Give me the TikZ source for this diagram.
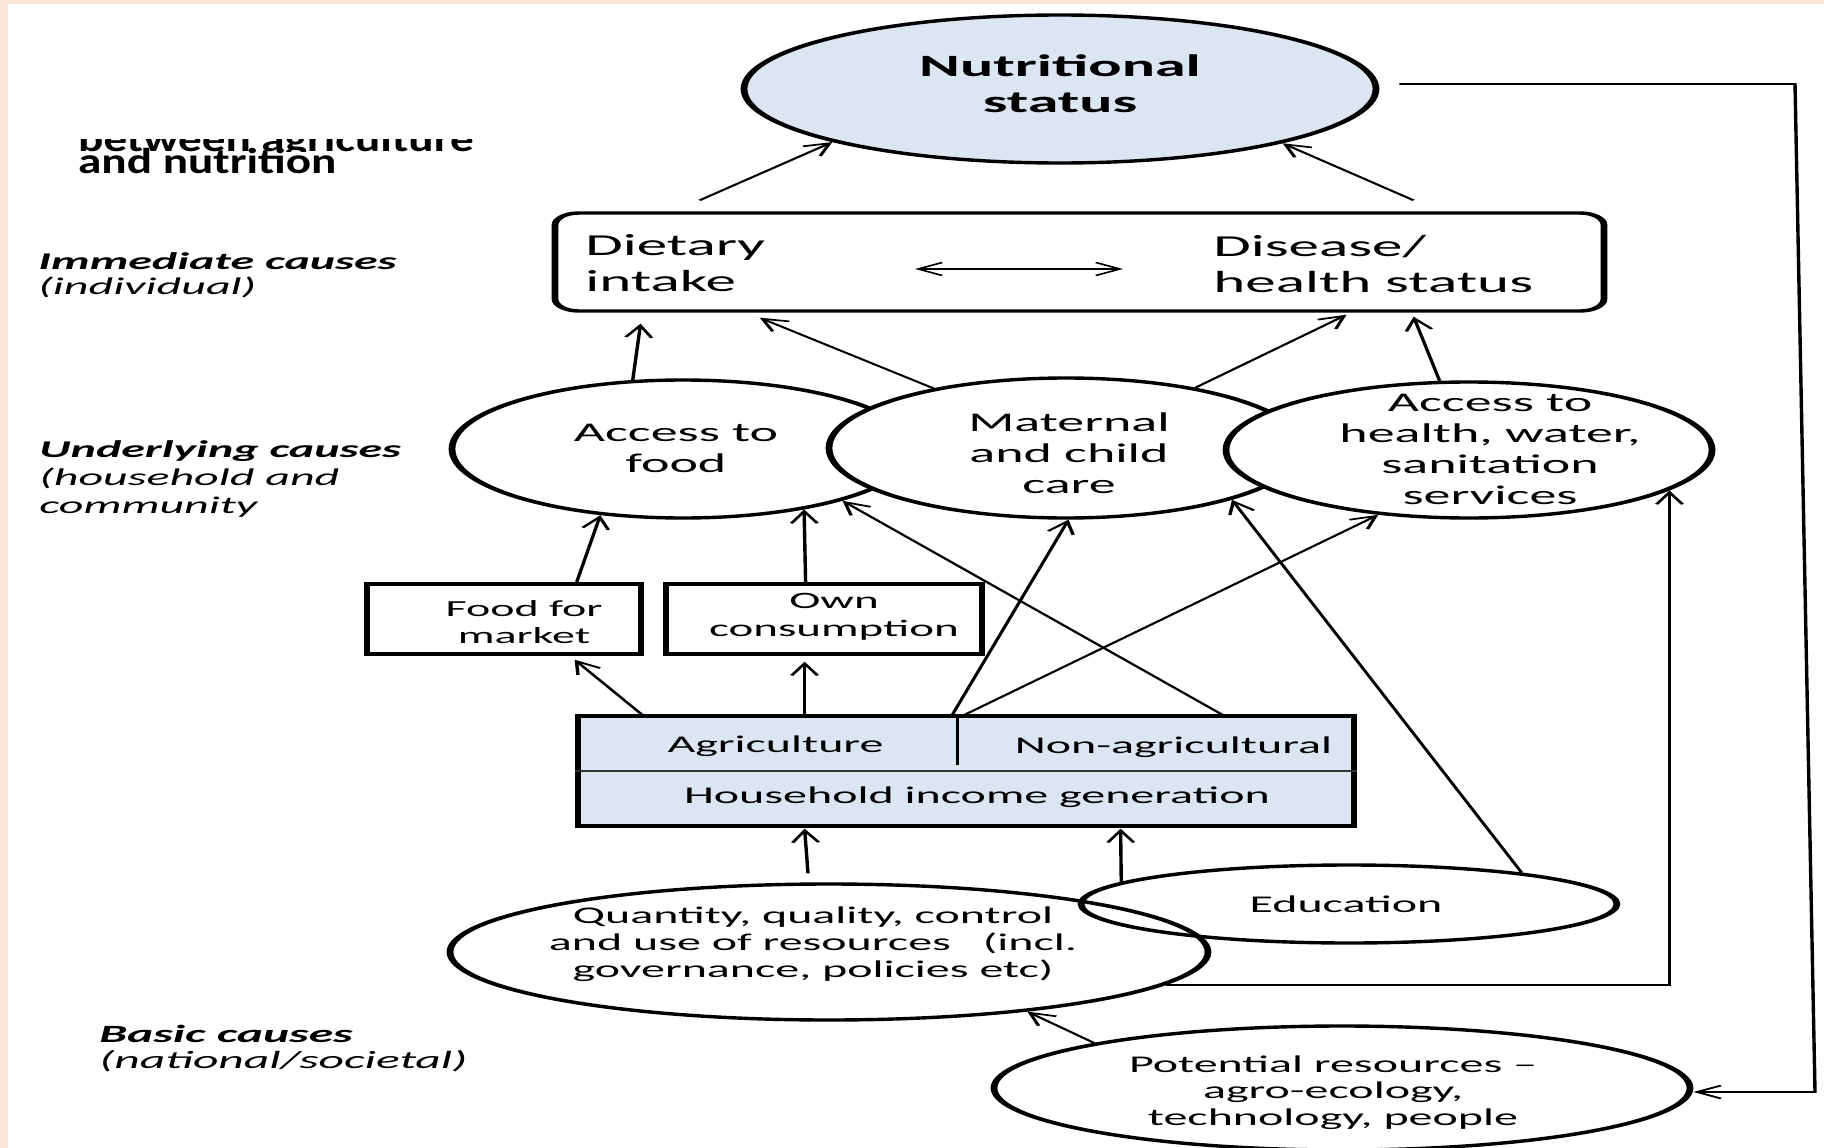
\documentclass[tikz,border=0pt]{standalone}
\usepackage{fontspec}
\setmainfont{Carlito}
\newfontfamily\titlefont{Carlito}[FakeStretch=1.31]
\usetikzlibrary{arrows.meta,calc,shapes.geometric}
\definecolor{peach}{HTML}{FBE5D6}
\definecolor{paleblue}{HTML}{DCE6F2}
\tikzset{
  ell/.style={ellipse, draw=black, line width=3.4pt, inner sep=0pt},
  boxn/.style={rectangle, draw=black, line width=3.4pt, inner sep=0pt},
  arr/.style={line width=1.7pt, -{Straight Barb[length=12pt,width=13pt]}},
  dbl/.style={line width=1.5pt, {Straight Barb[length=12pt,width=13pt]}-{Straight Barb[length=12pt,width=13pt]}},
  txt/.style={inner sep=0pt, align=center, anchor=base},
  lab/.style={inner sep=0pt, align=left, anchor=base west},
  titletxt/.style={inner sep=0pt, anchor=base west, font=\titlefont\bfseries\fontsize{36}{40}\selectfont},
}
\begin{document}
\begin{tikzpicture}[x=1pt,y=-1pt]
\useasboundingbox (0,0) rectangle (1824,1148);
\fill[peach] (0,0) rectangle (1824,1148);
\fill[white] (8,4) rectangle (1824,1148);
% clipped title fragment
\begin{scope}
  \clip (60,139) rectangle (500,151.5);
  \node[titletxt] (title1) at (78,151) {between agriculture};
\end{scope}
\node[titletxt] (title2) at (78,173) {and nutrition};

\begin{scope}[transform canvas={xscale=2}, x=0.5pt]
  % left labels (anchor = baseline of the last line)
  \node[lab, font=\fontsize{24}{25}\selectfont] (lab1) at (38,294)
    {\textbf{\textit{Immediate causes}}\\\textit{(individual)}};
  \node[lab, font=\fontsize{24}{28}\selectfont] (lab2) at (39,513)
    {\textbf{\textit{Underlying causes}}\\\textit{(household and}\\\textit{community}};
  \node[lab, font=\fontsize{24.8}{26}\selectfont] (lab3) at (99,1068)
    {\textbf{\textit{Basic causes}}\\\textit{(national/societal)}};

  % top
  \node[ell, fill=paleblue, minimum width=316pt, minimum height=148pt] (nut) at (1060,89) {};
  \node[txt, font=\bfseries\fontsize{31}{36}\selectfont] (nuttxt) at (1060,113) {Nutritional\\status};

  \node[boxn, rounded corners=12pt, minimum width=524.5pt, minimum height=98pt] (diet) at (1079.5,262) {};
  \node[lab, font=\fontsize{30.5}{36}\selectfont] (diettxt) at (585,291) {Dietary\\intake};
  \node[lab, font=\fontsize{30.5}{36}\selectfont] (distxt) at (1213,292) {Disease/\\health status};
  \draw[dbl] ($(diet.center)+(-164.5,7)$) -- ($(diet.center)+(43.5,7)$);

  % middle ellipses
  \node[ell, fill=white, minimum width=231pt, minimum height=138pt] (food) at (683,449) {};
  \node[ell, fill=white, minimum width=237pt, minimum height=140pt] (mat) at (1066,448) {};
  \node[ell, fill=white, minimum width=243pt, minimum height=136pt] (hlth) at (1469,450) {};
  \node[txt, font=\fontsize{27}{31}\selectfont] (foodtxt) at (676,472) {Access to\\food};
  \node[txt, font=\fontsize{27}{31}\selectfont] (mattxt) at (1069,493) {Maternal\\and child\\care};
  \node[txt, font=\fontsize{27}{31}\selectfont] (hlthtxt) at (1490,504) {Access to\\health, water,\\sanitation\\services};

  % boxes
  \node[boxn, minimum width=137pt, minimum height=70pt] (ffm) at (504,619) {};
  \node[boxn, minimum width=158pt, minimum height=70pt] (own) at (824,619) {};
  \node[txt, font=\fontsize{23}{27}\selectfont] (ffmtxt) at (524,643) {Food for\\market};
  \node[txt, font=\fontsize{23.5}{28}\selectfont] (owntxt) at (834,636) {Own\\consumption};

  \node[boxn, fill=paleblue, minimum width=388pt, minimum height=110pt] (hh) at (966,771) {};
  \draw[line width=1.2pt, black!80] (hh.west) -- (hh.east);
  \draw[line width=1.4pt] ($(hh.north west)+(383,3)$) -- ($(hh.north west)+(383,51)$);
  \node[txt, font=\fontsize{24}{28}\selectfont] (agtxt) at (775.5,752) {Agriculture};
  \node[txt, font=\fontsize{24}{28}\selectfont] (natxt) at (1173.5,753) {Non-agricultural};
  \node[txt, font=\fontsize{24}{28}\selectfont] (hhtxt) at (977,803) {Household income generation};

  % bottom ellipses
  \node[ell, minimum width=268pt, minimum height=78pt] (edu) at (1349,904) {};
  \node[txt, font=\fontsize{24}{28}\selectfont] (edutxt) at (1346,912) {Education};
  \node[ell, minimum width=379pt, minimum height=136pt] (qty) at (829,952) {};
  \node[txt, font=\fontsize{24}{27}\selectfont] (qtytxt) at (813,977)
    {Quantity, quality, control\\and use of resources\hspace{16pt}(incl.\\governance, policies etc)};
  \node[ell, minimum width=348pt, minimum height=124pt] (pot) at (1342,1088) {};
  \node[txt, font=\fontsize{24}{26.5}\selectfont] (pottxt) at (1333,1125)
    {Potential resources –\\agro-ecology,\\technology, people};

  % connectors
  \draw[arr] ($(diet.north west)+(148,-11)$) -- (nut.205.5);
  \draw[arr] ($(diet.north west)+(862,-11)$) -- (nut.334.8);
  \draw[arr] (food.110.4) -- ($(diet.south west)+(89,11)$);
  \draw[arr] (mat.138.8) -- ($(diet.south west)+(208,5)$);
  \draw[arr] (mat.43.3) -- ($(diet.south west)+(795,2)$);
  \draw[arr] (hlth.102.7) -- ($(diet.south west)+(862,4)$);

  \draw[arr] ($(ffm.north west)+(213,0)$) -- (food.238.9);
  \draw[arr] ($(own.north west)+(143,0)$) -- (food.315);
  \draw[arr] ($(hh.north west)+(67,0)$) -- ($(ffm.south west)+(211,4)$);
  \draw[arr] ($(hh.north west)+(230,0)$) -- ($(own.south west)+(142,6)$);
  \draw[arr] ($(hh.north west)+(378,0)$) -- (mat.271.2);
  \draw[arr] ($(hh.north west)+(391,0)$) -- (hlth.235.4);
  \draw[arr] ($(hh.north west)+(647,0)$) -- (food.327.4);
  \draw[arr] (edu.20.5) -- (mat.328.2);
  \draw[arr] ($(qty.north)+(-21,-9)$) -- ($(hh.south west)+(230,1)$);
  \draw[arr] (edu.169.4) -- ($(hh.south west)+(546,1)$);
  \draw[arr] (qty.349.7) -| (hlth.338.6);
  \draw[arr] (pot.160.9) -- (qty.329.7);
  \coordinate (fbA) at (1795,84);
  \coordinate (fbB) at (1815,1092);
  \draw[arr] ($(nut.east)+(20,-5)$) -- (fbA) -- (fbB) -- (pot.east |- fbB);
\end{scope}
\end{tikzpicture}
\end{document}
